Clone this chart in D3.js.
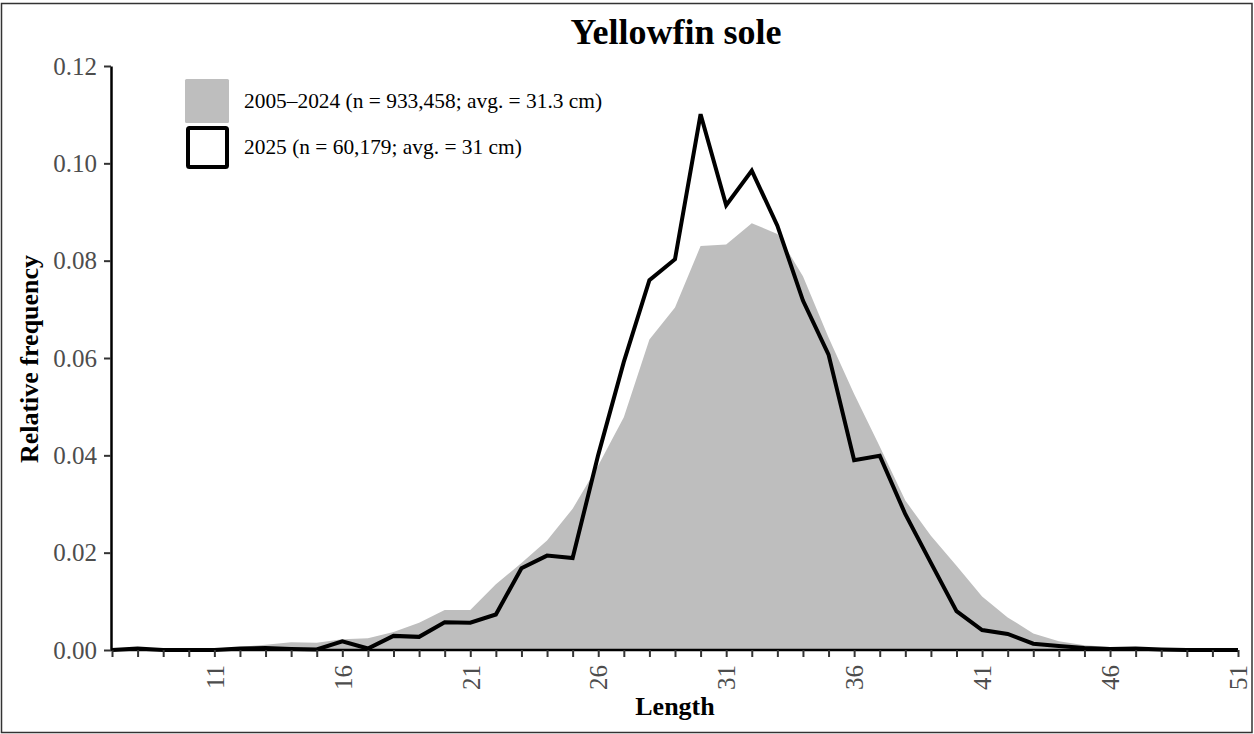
<!DOCTYPE html>
<html>
<head>
<meta charset="utf-8">
<script src="https://cdn.jsdelivr.net/npm/d3@7"></script>
<style>
  html, body { margin: 0; padding: 0; background: #fff; }
  svg { display: block; }
  text { font-family: "Liberation Serif", "Times New Roman", serif; }
</style>
</head>
<body>
<svg id="chart" width="1254" height="734"></svg>
<script>
// ---- data ----
const lengths = [7,8,9,10,11,12,13,14,15,16,17,18,19,20,21,22,23,24,25,26,27,28,29,30,31,32,33,34,35,36,37,38,39,40,41,42,43,44,45,46,47,48,49,50,51];
const histFreq = [0.0001,0.0001,0.0001,0.0001,0.0003,0.0006,0.0011,0.0016,0.0015,0.0022,0.0024,0.0037,0.0056,0.0082,0.0082,0.0135,0.0179,0.0225,0.0290,0.0379,0.0478,0.0638,0.0704,0.0830,0.0833,0.0877,0.0855,0.0768,0.0642,0.0526,0.0418,0.0307,0.0235,0.0173,0.0110,0.0067,0.0034,0.0018,0.0010,0.0006,0.0004,0.0002,0.0001,0.0000,0.0000];
const currFreq = [0.0000,0.0003,0.0000,0.0000,0.0000,0.0003,0.0004,0.0002,0.0001,0.0018,0.0003,0.0029,0.0027,0.0057,0.0056,0.0073,0.0168,0.0194,0.0189,0.0401,0.0592,0.0760,0.0803,0.1101,0.0914,0.0985,0.0872,0.0718,0.0607,0.0390,0.0399,0.0279,0.0179,0.0080,0.0041,0.0033,0.0013,0.0008,0.0004,0.0002,0.0003,0.0001,0.0000,0.0000,0.0000];
const xTickLabels = [11,16,21,26,31,36,41,46,51];
const yTicks = [0, 0.02, 0.04, 0.06, 0.08, 0.10, 0.12];
const seriesNames = ["2005\u20132024 (n = 933,458; avg. = 31.3 cm)", "2025 (n = 60,179; avg. = 31 cm)"];
const titleText = "Yellowfin sole";

// ---- layout ----
const svg = d3.select("#chart");
const x = d3.scaleLinear().domain([7, 51]).range([112, 1238]);
const y = d3.scaleLinear().domain([0, 0.12]).range([650, 66]);
const tickColor = "#4d4d4d";

// outer frame
svg.append("rect").attr("x", 1.5).attr("y", 3.5).attr("width", 1250.5).attr("height", 729)
  .attr("fill", "none").attr("stroke", "#333").attr("stroke-width", 1.5);

// area (2005-2024)
const area = d3.area().x((d, i) => x(lengths[i])).y0(y(0)).y1(d => y(d));
svg.append("path").datum(histFreq).attr("d", area).attr("fill", "#bebebe");

// line (2025)
const line = d3.line().x((d, i) => x(lengths[i])).y(d => y(d));
svg.append("path").datum(currFreq).attr("d", line)
  .attr("fill", "none").attr("stroke", "#000").attr("stroke-width", 4);

// x axis
const xAxis = d3.axisBottom(x).tickValues(lengths)
  .tickFormat(d => xTickLabels.includes(d) ? String(d) : "")
  .tickSizeInner(7).tickSizeOuter(0);
const gx = svg.append("g").attr("transform", `translate(0,${y(0)})`).call(xAxis);
gx.select(".domain").attr("stroke", "#000").attr("stroke-width", 2.5)
  .attr("d", `M${x(7) - 1},0H${x(51)}`);
gx.selectAll(".tick line").attr("stroke", "#333").attr("stroke-width", 2);
gx.selectAll(".tick text")
  .attr("fill", tickColor).attr("font-size", 25)
  .attr("font-family", "Liberation Serif, Times New Roman, serif")
  .attr("transform", "rotate(-90)")
  .attr("x", -15).attr("y", 0).attr("dy", "0.35em")
  .attr("text-anchor", "end");

// y axis
const yAxis = d3.axisLeft(y).tickValues(yTicks).tickFormat(d3.format(".2f"))
  .tickSizeInner(7).tickSizeOuter(0).tickPadding(7);
const gy = svg.append("g").attr("transform", `translate(${x(7) - 1},0)`).call(yAxis);
gy.select(".domain").attr("stroke", "#000").attr("stroke-width", 2.5);
gy.selectAll(".tick line").attr("stroke", "#333").attr("stroke-width", 2);
gy.selectAll(".tick text").attr("fill", tickColor).attr("font-size", 25)
  .attr("font-family", "Liberation Serif, Times New Roman, serif");

// title
svg.append("text").attr("x", 676).attr("y", 44).attr("text-anchor", "middle")
  .attr("font-size", 36).attr("font-weight", "bold").attr("fill", "#000").text(titleText);

// axis titles
svg.append("text").attr("x", 675).attr("y", 715).attr("text-anchor", "middle")
  .attr("font-size", 26).attr("font-weight", "bold").attr("fill", "#000").text("Length");
svg.append("text").attr("transform", "translate(38,359) rotate(-90)").attr("text-anchor", "middle")
  .attr("font-size", 26).attr("font-weight", "bold").attr("fill", "#000").text("Relative frequency");

// legend
const lg = svg.append("g");
lg.append("rect").attr("x", 185).attr("y", 79).attr("width", 44).attr("height", 44)
  .attr("rx", 1.5).attr("fill", "#bebebe");
lg.append("rect").attr("x", 188).attr("y", 128).attr("width", 39).attr("height", 39)
  .attr("rx", 1.5).attr("fill", "#fff").attr("stroke", "#000").attr("stroke-width", 4);
lg.append("text").attr("x", 244).attr("y", 108).attr("font-size", 21.4).attr("fill", "#000").text(seriesNames[0]);
lg.append("text").attr("x", 244).attr("y", 154).attr("font-size", 21.4).attr("fill", "#000").text(seriesNames[1]);
</script>
</body>
</html>
